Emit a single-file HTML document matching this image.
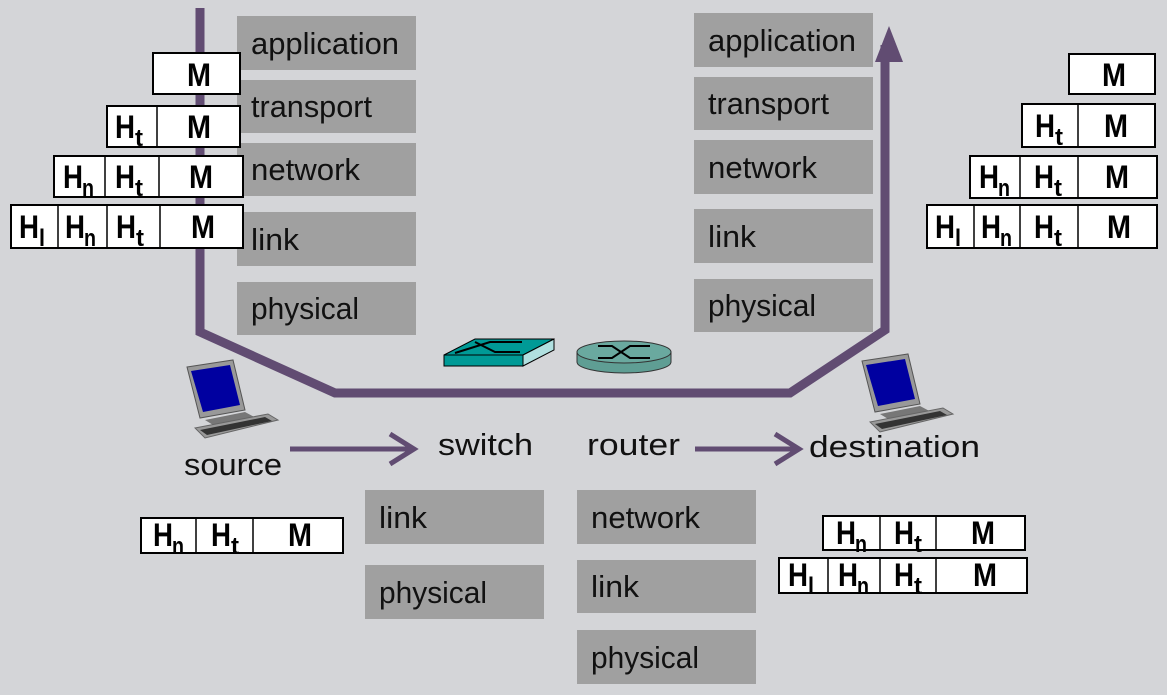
<!DOCTYPE html>
<html><head><meta charset="utf-8"><style>
html,body{margin:0;padding:0;background:#d4d5d8;}
svg{display:block}
.g{fill:#a0a0a0}
.l{font-family:"Liberation Sans",sans-serif;font-size:31px;fill:#111}
.h{font-family:"Liberation Sans",sans-serif;font-weight:bold;font-size:32px;fill:#000;text-anchor:middle}
.s{font-family:"Liberation Sans",sans-serif;font-weight:bold;font-size:24px;fill:#000;text-anchor:middle}
.b{fill:#fff;stroke:#000;stroke-width:2}
.d{stroke:#000;stroke-width:1.5}
</style></head><body>
<svg width="1167" height="695" viewBox="0 0 1167 695">
<defs>
<g id="M"><text class="h" x="0" y="0" textLength="24" lengthAdjust="spacingAndGlyphs">M</text></g>
<g id="Ht"><text class="h" x="-5" y="0" textLength="20" lengthAdjust="spacingAndGlyphs">H</text><text class="s" x="9" y="8" textLength="8" lengthAdjust="spacingAndGlyphs">t</text></g>
<g id="Hn"><text class="h" x="-5" y="0" textLength="20" lengthAdjust="spacingAndGlyphs">H</text><text class="s" x="10" y="8" textLength="12" lengthAdjust="spacingAndGlyphs">n</text></g>
<g id="Hl"><text class="h" x="-5" y="0" textLength="20" lengthAdjust="spacingAndGlyphs">H</text><text class="s" x="8" y="8" textLength="6" lengthAdjust="spacingAndGlyphs">l</text></g>
</defs>
<rect width="1167" height="695" fill="#d4d5d8"/>
<polyline points="200,8 200,332 335,393 790,393 885,330 885,45" fill="none" stroke="#614c72" stroke-width="9"/>
<polygon points="875,62 889,26 903,62" fill="#614c72"/>
<g class="g">
<rect x="237" y="16" width="179" height="54"/><rect x="237" y="80" width="179" height="53"/><rect x="237" y="143" width="179" height="53"/><rect x="237" y="212" width="179" height="54"/><rect x="237" y="282" width="179" height="53"/>
<rect x="694" y="13" width="179" height="54"/><rect x="694" y="77" width="179" height="53"/><rect x="694" y="140" width="179" height="54"/><rect x="694" y="209" width="179" height="54"/><rect x="694" y="279" width="179" height="53"/>
<rect x="365" y="490" width="179" height="54"/><rect x="365" y="565" width="179" height="54"/>
<rect x="577" y="490" width="179" height="54"/><rect x="577" y="560" width="179" height="53"/><rect x="577" y="630" width="179" height="54"/>
</g>
<g class="l" lengthAdjust="spacingAndGlyphs">
<text x="251" y="54" textLength="148" lengthAdjust="spacingAndGlyphs">application</text><text x="251" y="117" textLength="121" lengthAdjust="spacingAndGlyphs">transport</text><text x="251" y="180" textLength="109" lengthAdjust="spacingAndGlyphs">network</text><text x="251" y="250" textLength="48" lengthAdjust="spacingAndGlyphs">link</text><text x="251" y="319" textLength="108" lengthAdjust="spacingAndGlyphs">physical</text>
<text x="708" y="51" textLength="148" lengthAdjust="spacingAndGlyphs">application</text><text x="708" y="114" textLength="121" lengthAdjust="spacingAndGlyphs">transport</text><text x="708" y="178" textLength="109" lengthAdjust="spacingAndGlyphs">network</text><text x="708" y="247" textLength="48" lengthAdjust="spacingAndGlyphs">link</text><text x="708" y="316" textLength="108" lengthAdjust="spacingAndGlyphs">physical</text>
<text x="379" y="528" textLength="48" lengthAdjust="spacingAndGlyphs">link</text><text x="379" y="603" textLength="108" lengthAdjust="spacingAndGlyphs">physical</text>
<text x="591" y="528" textLength="109" lengthAdjust="spacingAndGlyphs">network</text><text x="591" y="597" textLength="48" lengthAdjust="spacingAndGlyphs">link</text><text x="591" y="668" textLength="108" lengthAdjust="spacingAndGlyphs">physical</text>
<text x="184" y="475" textLength="98" lengthAdjust="spacingAndGlyphs">source</text><text x="438" y="455" textLength="95" lengthAdjust="spacingAndGlyphs">switch</text><text x="587" y="455" textLength="93" lengthAdjust="spacingAndGlyphs">router</text><text x="809" y="457" textLength="171" lengthAdjust="spacingAndGlyphs">destination</text>
</g>
<g stroke="#614c72" stroke-width="5" fill="none">
<line x1="290" y1="449" x2="412" y2="449"/><polyline points="390,434 414,449 390,464"/>
<line x1="695" y1="449" x2="797" y2="449"/><polyline points="775,434 799,449 775,464"/>
</g>
<polygon points="444,355 475,339 554,339 523,355" fill="#009a96" stroke="#000"/>
<rect x="444" y="355" width="79" height="11" fill="#009a96" stroke="#000"/>
<polygon points="523,355 554,339 554,350 523,366" fill="#b0e0e0" stroke="#000"/>
<path d="M455,353 L490,342 L522,342 M475,342 L495,352 L520,352" stroke="#000" stroke-width="2" fill="none"/>
<path d="M577,352 L577,362 A47,11 0 0 0 671,362 L671,352" fill="#5f9e94" stroke="#333"/>
<ellipse cx="624" cy="352" rx="47" ry="11" fill="#6aa99f" stroke="#333"/>
<path d="M598,346 L612,346 L630,358 L650,358 M598,358 L612,358 L630,346 L650,346" stroke="#000" stroke-width="2" fill="none"/>
<g>
<polygon points="187,367 233,360 245,410 200,418" fill="#999" stroke="#555"/>
<polygon points="191,371 230,365 240,405 203,412" fill="#0000a0"/>
<polygon points="205,420 245,412 260,420 218,428" fill="#777"/>
<polygon points="195,428 268,414 278,420 205,438" fill="#999" stroke="#666"/>
<polygon points="200,430 265,417 272,421 207,435" fill="#333"/>
</g>
<g transform="translate(675,-6)">
<polygon points="187,367 233,360 245,410 200,418" fill="#999" stroke="#555"/>
<polygon points="191,371 230,365 240,405 203,412" fill="#0000a0"/>
<polygon points="205,420 245,412 260,420 218,428" fill="#777"/>
<polygon points="195,428 268,414 278,420 205,438" fill="#999" stroke="#666"/>
<polygon points="200,430 265,417 272,421 207,435" fill="#333"/>
</g>
<rect class="b" x="153" y="53" width="87" height="41"/><use href="#M" x="199" y="86"/>
<rect class="b" x="107" y="106" width="133" height="41"/><line class="d" x1="157" y1="106" x2="157" y2="147"/>
<use href="#Ht" x="130" y="138"/><use href="#M" x="199" y="138"/>
<rect class="b" x="54" y="156" width="189" height="41"/><line class="d" x1="105" y1="156" x2="105" y2="197"/><line class="d" x1="159" y1="156" x2="159" y2="197"/>
<use href="#Hn" x="78" y="188"/><use href="#Ht" x="130" y="188"/><use href="#M" x="201" y="188"/>
<rect class="b" x="11" y="205" width="232" height="43"/><line class="d" x1="58" y1="205" x2="58" y2="248"/><line class="d" x1="107" y1="205" x2="107" y2="248"/><line class="d" x1="160" y1="205" x2="160" y2="248"/>
<use href="#Hl" x="34" y="238"/><use href="#Hn" x="80" y="238"/><use href="#Ht" x="131" y="238"/><use href="#M" x="203" y="238"/>
<rect class="b" x="1069" y="54" width="86" height="40"/><use href="#M" x="1114" y="86"/>
<rect class="b" x="1022" y="104" width="133" height="43"/><line class="d" x1="1078" y1="104" x2="1078" y2="147"/>
<use href="#Ht" x="1050" y="137"/><use href="#M" x="1116" y="137"/>
<rect class="b" x="970" y="156" width="187" height="42"/><line class="d" x1="1020" y1="156" x2="1020" y2="198"/><line class="d" x1="1078" y1="156" x2="1078" y2="198"/>
<use href="#Hn" x="994" y="188"/><use href="#Ht" x="1049" y="188"/><use href="#M" x="1117" y="188"/>
<rect class="b" x="927" y="205" width="230" height="43"/><line class="d" x1="974" y1="205" x2="974" y2="248"/><line class="d" x1="1020" y1="205" x2="1020" y2="248"/><line class="d" x1="1078" y1="205" x2="1078" y2="248"/>
<use href="#Hl" x="950" y="238"/><use href="#Hn" x="996" y="238"/><use href="#Ht" x="1049" y="238"/><use href="#M" x="1119" y="238"/>
<rect class="b" x="141" y="518" width="202" height="35"/><line class="d" x1="196" y1="518" x2="196" y2="553"/><line class="d" x1="253" y1="518" x2="253" y2="553"/>
<use href="#Hn" x="168" y="546"/><use href="#Ht" x="226" y="546"/><use href="#M" x="300" y="546"/>
<rect class="b" x="823" y="516" width="202" height="34"/><line class="d" x1="880" y1="516" x2="880" y2="550"/><line class="d" x1="936" y1="516" x2="936" y2="550"/>
<use href="#Hn" x="851" y="544"/><use href="#Ht" x="909" y="544"/><use href="#M" x="983" y="544"/>
<rect class="b" x="779" y="558" width="248" height="35"/><line class="d" x1="828" y1="558" x2="828" y2="593"/><line class="d" x1="880" y1="558" x2="880" y2="593"/><line class="d" x1="936" y1="558" x2="936" y2="593"/>
<use href="#Hl" x="803" y="586"/><use href="#Hn" x="853" y="586"/><use href="#Ht" x="909" y="586"/><use href="#M" x="985" y="586"/>
</svg>
</body></html>
